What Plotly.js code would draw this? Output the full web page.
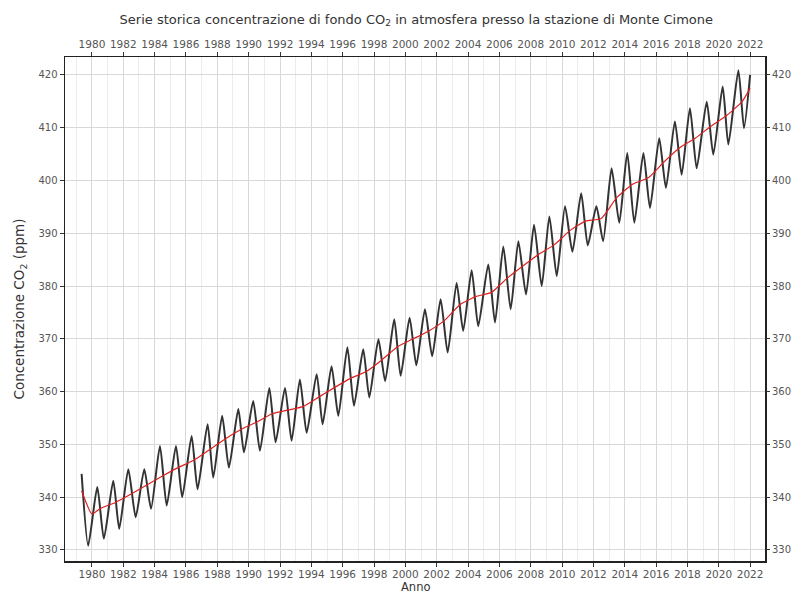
<!DOCTYPE html>
<html>
<head>
<meta charset="utf-8">
<script src="https://cdn.plot.ly/plotly-3.0.1.min.js"></script>
<style>html,body{margin:0;padding:0;background:#fff;}#chart{width:793px;height:594px;}</style>
</head>
<body>
<div id="chart"></div>
<script>
// Monthly series: seasonal peaks and troughs (decimal year, ppm)
const seriesYears = [1979.34, 1979.76, 1980.34, 1980.76, 1981.36, 1981.74, 1982.32, 1982.79, 1983.34, 1983.77,
  1984.34, 1984.77, 1985.36, 1985.76, 1986.36, 1986.74, 1987.38, 1987.74, 1988.31, 1988.74,
  1989.34, 1989.70, 1990.29, 1990.72, 1991.32, 1991.72, 1992.32, 1992.74, 1993.27, 1993.70,
  1994.34, 1994.72, 1995.29, 1995.72, 1996.30, 1996.72, 1997.31, 1997.70, 1998.28, 1998.71,
  1999.29, 1999.70, 2000.27, 2000.70, 2001.25, 2001.71, 2002.25, 2002.70, 2003.27, 2003.69,
  2004.23, 2004.65, 2005.29, 2005.72, 2006.25, 2006.72, 2007.21, 2007.70, 2008.21, 2008.70,
  2009.19, 2009.66, 2010.19, 2010.66, 2011.22, 2011.64, 2012.19, 2012.62, 2013.16, 2013.65,
  2014.16, 2014.61, 2015.19, 2015.61, 2016.20, 2016.63, 2017.20, 2017.63, 2018.16, 2018.59,
  2019.23, 2019.65, 2020.25, 2020.61, 2021.25, 2021.61, 2022.0];
const seriesCO2 = [344.4, 330.8, 341.9, 332.1, 343.1, 334.0, 345.3, 336.2, 345.3, 337.8,
  349.7, 338.4, 349.7, 340.0, 351.6, 341.5, 353.8, 343.7, 355.4, 345.6,
  356.7, 348.5, 358.2, 348.8, 360.7, 350.4, 360.7, 350.7, 362.3, 352.2,
  363.3, 353.8, 364.8, 355.4, 368.4, 357.3, 368.0, 358.9, 369.9, 362.0,
  373.7, 363.0, 374.0, 365.0, 375.6, 366.7, 377.5, 367.4, 380.6, 371.5,
  383.0, 372.4, 384.1, 373.1, 387.5, 375.6, 388.5, 378.4, 391.6, 380.0,
  393.2, 381.9, 395.1, 386.5, 397.6, 387.7, 395.1, 388.5, 402.3, 392.0,
  405.2, 392.0, 405.2, 394.8, 408.0, 398.6, 411.2, 401.1, 413.7, 402.3,
  414.9, 404.9, 417.8, 406.8, 420.9, 409.9, 420.0];

// Trend (red line)
const trendYears = [1979.34, 1980.0, 1980.5, 1981.5, 1982.5, 1983.5, 1984.5, 1985.5, 1986.5, 1987.5,
  1988.5, 1989.5, 1990.5, 1991.5, 1992.5, 1993.5, 1994.5, 1995.5, 1996.5, 1997.5,
  1998.5, 1999.5, 2000.5, 2001.5, 2002.5, 2003.5, 2004.5, 2005.5, 2006.5, 2007.5,
  2008.5, 2009.5, 2010.5, 2011.5, 2012.5, 2013.5, 2014.5, 2015.5, 2016.5, 2017.5,
  2018.5, 2019.5, 2020.5, 2021.5, 2022.0];
const trendCO2 = [341.2, 336.8, 337.8, 339.0, 340.6, 342.3, 344.0, 345.6, 347.0, 349.0,
  351.0, 352.8, 354.2, 355.8, 356.5, 357.2, 359.0, 360.8, 362.5, 363.8,
  366.0, 368.5, 370.0, 371.5, 373.5, 376.5, 378.0, 378.8, 381.5, 383.8,
  386.0, 387.8, 390.5, 392.3, 392.8, 396.8, 399.3, 400.5, 403.5, 406.2,
  408.0, 410.3, 412.3, 415.0, 417.5];

const yearTicks = [];
for (let y = 1980; y <= 2022; y += 2) yearTicks.push(y);
const co2Ticks = [330, 340, 350, 360, 370, 380, 390, 400, 410, 420];

const xRange = [1978.28, 2022.95];
const yRange = [327.9, 423.4];
const xTickFont = {family: 'DejaVu Sans', size: 10.5, color: '#555'};
const yTickFont = {family: 'DejaVu Sans', size: 10, color: '#555'};

const traces = [
  {x: seriesYears, y: seriesCO2, type: 'scatter', mode: 'lines',
   line: {color: '#333333', width: 2, shape: 'spline', smoothing: 0.6}, showlegend: false, hoverinfo: 'skip'},
  {x: trendYears, y: trendCO2, type: 'scatter', mode: 'lines',
   line: {color: '#e02020', width: 1.2, shape: 'spline', smoothing: 0.5}, showlegend: false, hoverinfo: 'skip'},
  {x: trendYears, y: trendCO2, xaxis: 'x2', yaxis: 'y2', type: 'scatter', mode: 'lines',
   line: {width: 0}, opacity: 0, showlegend: false, hoverinfo: 'skip'}
];

const mT = 57, mB = 33, H = 594;
const plotH = H - mT - mB;

const layout = {
  width: 793, height: H,
  margin: {l: 65, r: 28, t: mT, b: mB},
  paper_bgcolor: '#fff', plot_bgcolor: '#fff',
  showlegend: false,
  title: {text: 'Serie storica concentrazione di fondo CO<sub>2</sub> in atmosfera presso la stazione di Monte Cimone',
          font: {family: 'DejaVu Sans', size: 13, color: '#333'}, x: 0.525, xanchor: 'center', y: 0.968, yanchor: 'middle'},
  xaxis: {range: xRange, tickmode: 'array', tickvals: yearTicks, ticktext: yearTicks.map(String),
          tickangle: 0, tickfont: xTickFont, ticks: 'outside', ticklen: 4, tickcolor: '#333', ticklabelstandoff: -1,
          showline: true, linecolor: '#222', linewidth: 1.5, mirror: true,
          showgrid: true, gridcolor: '#d8d8d8', gridwidth: 1, zeroline: false,
          minor: {dtick: 1, tick0: 1979, showgrid: true, gridcolor: '#ececec', gridwidth: 1}},
  xaxis2: {range: xRange, overlaying: 'x', side: 'top', tickmode: 'array', tickvals: yearTicks,
           ticktext: yearTicks.map(String), tickangle: 0, tickfont: xTickFont, ticks: 'outside', ticklen: 4,
           tickcolor: '#333', showgrid: false, zeroline: false, showline: false},
  yaxis: {range: yRange, tickmode: 'array', tickvals: co2Ticks, ticktext: co2Ticks.map(String),
          tickfont: yTickFont, ticks: 'outside', ticklen: 4, tickcolor: '#333',
          showline: true, linecolor: '#222', linewidth: 1.5, mirror: true,
          showgrid: true, gridcolor: '#d8d8d8', gridwidth: 1, zeroline: false,
          title: {text: 'Concentrazione CO<sub>2</sub> (ppm)', font: {family: 'DejaVu Sans', size: 13.5, color: '#333'}, standoff: 10}},
  yaxis2: {range: yRange, overlaying: 'y', side: 'right', tickmode: 'array', tickvals: co2Ticks,
           ticktext: co2Ticks.map(String), tickfont: yTickFont, ticks: 'outside', ticklen: 4, tickcolor: '#333',
           showgrid: false, zeroline: false, showline: false},
  annotations: [
    {text: 'Anno', xref: 'paper', yref: 'paper', x: 0.5, xanchor: 'center',
     y: -(mB + 2) / plotH, yanchor: 'bottom', showarrow: false,
     font: {family: 'DejaVu Sans', size: 11.5, color: '#333'}}
  ]
};

Plotly.newPlot('chart', traces, layout, {displayModeBar: false, staticPlot: true});
</script>
</body>
</html>
